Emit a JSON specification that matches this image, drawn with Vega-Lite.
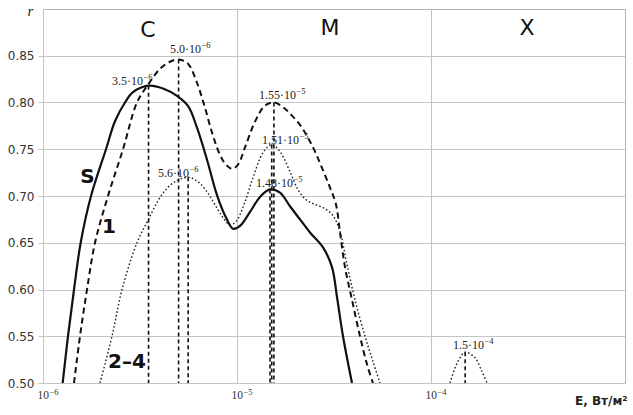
{
  "$schema": "https://vega.github.io/schema/vega-lite/v6.json",
  "width": 582,
  "height": 374,
  "autosize": {"type": "none"},
  "padding": {"left": 43, "top": 9, "right": 8, "bottom": 32},
  "background": "white",
  "config": {"view": {"stroke": "#b5b5b5", "strokeWidth": 1}},
  "datasets": {
    "curves": [
      {"s": "S", "E": 1.263e-6, "r": 0.50},
      {"s": "S", "E": 1.345e-6, "r": 0.55},
      {"s": "S", "E": 1.445e-6, "r": 0.60},
      {"s": "S", "E": 1.564e-6, "r": 0.65},
      {"s": "S", "E": 1.768e-6, "r": 0.70},
      {"s": "S", "E": 2.112e-6, "r": 0.75},
      {"s": "S", "E": 2.35e-6, "r": 0.78},
      {"s": "S", "E": 2.647e-6, "r": 0.80},
      {"s": "S", "E": 2.91e-6, "r": 0.811},
      {"s": "S", "E": 3.5e-6, "r": 0.818},
      {"s": "S", "E": 4.155e-6, "r": 0.815},
      {"s": "S", "E": 4.906e-6, "r": 0.807},
      {"s": "S", "E": 5.6e-6, "r": 0.796},
      {"s": "S", "E": 6.22e-6, "r": 0.773},
      {"s": "S", "E": 7.0e-6, "r": 0.739},
      {"s": "S", "E": 7.885e-6, "r": 0.701},
      {"s": "S", "E": 8.776e-6, "r": 0.677},
      {"s": "S", "E": 9.54e-6, "r": 0.665},
      {"s": "S", "E": 1.036e-5, "r": 0.668},
      {"s": "S", "E": 1.167e-5, "r": 0.683},
      {"s": "S", "E": 1.314e-5, "r": 0.699},
      {"s": "S", "E": 1.48e-5, "r": 0.707},
      {"s": "S", "E": 1.666e-5, "r": 0.7035},
      {"s": "S", "E": 1.876e-5, "r": 0.689},
      {"s": "S", "E": 2.112e-5, "r": 0.675},
      {"s": "S", "E": 2.378e-5, "r": 0.661},
      {"s": "S", "E": 2.775e-5, "r": 0.645},
      {"s": "S", "E": 3.088e-5, "r": 0.624},
      {"s": "S", "E": 3.277e-5, "r": 0.592},
      {"s": "S", "E": 3.519e-5, "r": 0.55},
      {"s": "S", "E": 3.915e-5, "r": 0.50},
      {"s": "1", "E": 1.445e-6, "r": 0.50},
      {"s": "1", "E": 1.551e-6, "r": 0.55},
      {"s": "1", "E": 1.686e-6, "r": 0.60},
      {"s": "1", "E": 1.854e-6, "r": 0.65},
      {"s": "1", "E": 2.163e-6, "r": 0.70},
      {"s": "1", "E": 2.585e-6, "r": 0.75},
      {"s": "1", "E": 3.051e-6, "r": 0.80},
      {"s": "1", "E": 3.477e-6, "r": 0.819},
      {"s": "1", "E": 4.01e-6, "r": 0.836},
      {"s": "1", "E": 4.513e-6, "r": 0.8436},
      {"s": "1", "E": 5.0e-6, "r": 0.846},
      {"s": "1", "E": 5.589e-6, "r": 0.8415},
      {"s": "1", "E": 6.147e-6, "r": 0.824},
      {"s": "1", "E": 6.76e-6, "r": 0.798},
      {"s": "1", "E": 7.43e-6, "r": 0.768},
      {"s": "1", "E": 8.17e-6, "r": 0.744},
      {"s": "1", "E": 8.776e-6, "r": 0.7335},
      {"s": "1", "E": 9.42e-6, "r": 0.729},
      {"s": "1", "E": 1.012e-5, "r": 0.7335},
      {"s": "1", "E": 1.0996e-5, "r": 0.752},
      {"s": "1", "E": 1.238e-5, "r": 0.7795},
      {"s": "1", "E": 1.394e-5, "r": 0.7966},
      {"s": "1", "E": 1.55e-5, "r": 0.80},
      {"s": "1", "E": 1.727e-5, "r": 0.795},
      {"s": "1", "E": 1.92e-5, "r": 0.786},
      {"s": "1", "E": 2.163e-5, "r": 0.773},
      {"s": "1", "E": 2.465e-5, "r": 0.752},
      {"s": "1", "E": 2.742e-5, "r": 0.730},
      {"s": "1", "E": 3.016e-5, "r": 0.709},
      {"s": "1", "E": 3.238e-5, "r": 0.691},
      {"s": "1", "E": 3.396e-5, "r": 0.661},
      {"s": "1", "E": 3.603e-5, "r": 0.624},
      {"s": "1", "E": 3.915e-5, "r": 0.589},
      {"s": "1", "E": 4.305e-5, "r": 0.55},
      {"s": "1", "E": 4.678e-5, "r": 0.52},
      {"s": "1", "E": 5.02e-5, "r": 0.50},
      {"s": "D", "E": 1.967e-6, "r": 0.50},
      {"s": "D", "E": 2.268e-6, "r": 0.55},
      {"s": "D", "E": 2.555e-6, "r": 0.60},
      {"s": "D", "E": 3.051e-6, "r": 0.65},
      {"s": "D", "E": 3.477e-6, "r": 0.674},
      {"s": "D", "E": 4.057e-6, "r": 0.70},
      {"s": "D", "E": 4.68e-6, "r": 0.714},
      {"s": "D", "E": 5.6e-6, "r": 0.72},
      {"s": "D", "E": 6.295e-6, "r": 0.7153},
      {"s": "D", "E": 7.0e-6, "r": 0.7046},
      {"s": "D", "E": 7.7e-6, "r": 0.6907},
      {"s": "D", "E": 8.47e-6, "r": 0.6768},
      {"s": "D", "E": 9.2e-6, "r": 0.6693},
      {"s": "D", "E": 9.88e-6, "r": 0.6725},
      {"s": "D", "E": 1.087e-5, "r": 0.691},
      {"s": "D", "E": 1.209e-5, "r": 0.7196},
      {"s": "D", "E": 1.361e-5, "r": 0.7463},
      {"s": "D", "E": 1.51e-5, "r": 0.755},
      {"s": "D", "E": 1.666e-5, "r": 0.7474},
      {"s": "D", "E": 1.876e-5, "r": 0.726},
      {"s": "D", "E": 2.063e-5, "r": 0.7067},
      {"s": "D", "E": 2.268e-5, "r": 0.696},
      {"s": "D", "E": 2.524e-5, "r": 0.691},
      {"s": "D", "E": 2.842e-5, "r": 0.6864},
      {"s": "D", "E": 3.124e-5, "r": 0.679},
      {"s": "D", "E": 3.396e-5, "r": 0.662},
      {"s": "D", "E": 3.69e-5, "r": 0.6265},
      {"s": "D", "E": 4.057e-5, "r": 0.589},
      {"s": "D", "E": 4.569e-5, "r": 0.55},
      {"s": "D", "E": 5.02e-5, "r": 0.523},
      {"s": "D", "E": 5.46e-5, "r": 0.50},
      {"s": "B", "E": 1.253e-4, "r": 0.50},
      {"s": "B", "E": 1.33e-4, "r": 0.516},
      {"s": "B", "E": 1.411e-4, "r": 0.527},
      {"s": "B", "E": 1.5e-4, "r": 0.533},
      {"s": "B", "E": 1.686e-4, "r": 0.527},
      {"s": "B", "E": 1.825e-4, "r": 0.513},
      {"s": "B", "E": 1.944e-4, "r": 0.50}
    ],
    "peaks": [
      {"E": 3.5e-6, "r": 0.818},
      {"E": 5.0e-6, "r": 0.846},
      {"E": 5.6e-6, "r": 0.72},
      {"E": 1.48e-5, "r": 0.707},
      {"E": 1.51e-5, "r": 0.755},
      {"E": 1.55e-5, "r": 0.80},
      {"E": 1.5e-4, "r": 0.533}
    ],
    "peakLabels": [
      {"E": 3.278e-6, "r": 0.8233, "b": "3.5·10", "e": "−6"},
      {"E": 6.52e-6, "r": 0.8575, "b": "5.0·10", "e": "−6"},
      {"E": 2.015e-5, "r": 0.808, "b": "1.55·10", "e": "−5"},
      {"E": 2.087e-5, "r": 0.760, "b": "1.51·10", "e": "−5"},
      {"E": 1.944e-5, "r": 0.714, "b": "1.48·10", "e": "−5"},
      {"E": 5.656e-6, "r": 0.725, "b": "5.6·10", "e": "−6"},
      {"E": 1.876e-4, "r": 0.541, "b": "1.5·10", "e": "−4"}
    ],
    "tickLabels": [
      {"E": 1e-6, "b": "10", "e": "−6"},
      {"E": 1e-5, "b": "10", "e": "−5"},
      {"E": 1e-4, "b": "10", "e": "−4"}
    ],
    "curveLabels": [
      {"E": 1.696e-6, "r": 0.7206, "t": "S"},
      {"E": 2.189e-6, "r": 0.667, "t": "1"},
      {"E": 2.71e-6, "r": 0.522, "t": "2–4"}
    ],
    "regionLabels": [
      {"E": 3.477e-6, "r": 0.878, "t": "C"},
      {"E": 3.016e-5, "r": 0.880, "t": "M"},
      {"E": 3.124e-4, "r": 0.880, "t": "X"}
    ]
  },
  "encoding": {
    "x": {
      "field": "E",
      "type": "quantitative",
      "scale": {"type": "log", "domain": [1e-6, 1e-3], "nice": false},
      "axis": {
        "values": [1e-6, 1e-5, 1e-4],
        "labels": false,
        "grid": true,
        "gridColor": "#c4c4c4",
        "domain": false,
        "ticks": false,
        "title": "E, Вт/м²",
        "titleFont": "DejaVu Sans",
        "titleFontSize": 12,
        "titleFontWeight": "bold",
        "titleColor": "#222222",
        "titleAnchor": "end",
        "titleAlign": "right",
        "titleBaseline": "middle",
        "titleX": 584,
        "titleY": 17
      }
    },
    "y": {
      "field": "r",
      "type": "quantitative",
      "scale": {"domain": [0.5, 0.9], "nice": false, "zero": false},
      "axis": {
        "values": [0.5, 0.55, 0.6, 0.65, 0.7, 0.75, 0.8, 0.85],
        "format": ".2f",
        "grid": true,
        "gridColor": "#c4c4c4",
        "domain": false,
        "ticks": true,
        "tickSize": 5,
        "tickColor": "#c4c4c4",
        "labelFont": "DejaVu Sans",
        "labelFontSize": 12,
        "labelColor": "#333333",
        "labelPadding": 4,
        "labelFlush": false,
        "title": "r",
        "titleFont": "Liberation Serif",
        "titleFontStyle": "italic",
        "titleFontWeight": "normal",
        "titleFontSize": 15,
        "titleColor": "#222222",
        "titleAngle": 0,
        "titleAlign": "center",
        "titleBaseline": "alphabetic",
        "titleX": -13,
        "titleY": 6
      }
    }
  },
  "layer": [
    {
      "data": {"name": "curves"},
      "transform": [{"filter": "datum.s == 'S'"}],
      "mark": {"type": "line", "color": "#111111", "strokeWidth": 2.2, "interpolate": "catmull-rom", "clip": true},
      "encoding": {}
    },
    {
      "data": {"name": "curves"},
      "transform": [{"filter": "datum.s == '1'"}],
      "mark": {"type": "line", "color": "#111111", "strokeWidth": 2, "strokeDash": [6, 4], "interpolate": "catmull-rom", "clip": true},
      "encoding": {}
    },
    {
      "data": {"name": "curves"},
      "transform": [{"filter": "datum.s == 'D' || datum.s == 'B'"}],
      "mark": {"type": "line", "color": "#222222", "strokeWidth": 1.4, "strokeDash": [1.6, 2.2], "interpolate": "catmull-rom", "clip": true},
      "encoding": {"detail": {"field": "s"}}
    },
    {
      "data": {"name": "peaks"},
      "mark": {"type": "rule", "color": "#111111", "strokeWidth": 1.6, "strokeDash": [4, 3]},
      "encoding": {"y2": {"datum": 0.5}}
    },
    {
      "data": {"name": "peakLabels"},
      "mark": {"type": "text", "font": "Liberation Serif", "fontSize": 12, "color": "#222222", "align": "right", "baseline": "middle"},
      "encoding": {"text": {"field": "b"}}
    },
    {
      "data": {"name": "peakLabels"},
      "mark": {"type": "text", "font": "Liberation Serif", "fontSize": 8.5, "color": "#222222", "align": "left", "baseline": "middle", "dx": 0.5, "dy": -4},
      "encoding": {"text": {"field": "e"}}
    },
    {
      "data": {"name": "tickLabels"},
      "transform": [{"calculate": "0.5", "as": "r"}],
      "mark": {"type": "text", "font": "Liberation Serif", "fontSize": 11.5, "color": "#333333", "align": "right", "baseline": "middle", "dx": 6, "dy": 13},
      "encoding": {"text": {"field": "b"}}
    },
    {
      "data": {"name": "tickLabels"},
      "transform": [{"calculate": "0.5", "as": "r"}],
      "mark": {"type": "text", "font": "Liberation Serif", "fontSize": 8.5, "color": "#333333", "align": "left", "baseline": "middle", "dx": 6.5, "dy": 9},
      "encoding": {"text": {"field": "e"}}
    },
    {
      "data": {"name": "curveLabels"},
      "mark": {"type": "text", "font": "DejaVu Sans", "fontSize": 20, "fontWeight": "bold", "color": "#111111", "align": "center", "baseline": "middle"},
      "encoding": {"text": {"field": "t"}}
    },
    {
      "data": {"name": "regionLabels"},
      "mark": {"type": "text", "font": "DejaVu Sans", "fontSize": 22, "color": "#111111", "align": "center", "baseline": "middle"},
      "encoding": {"text": {"field": "t"}}
    }
  ]
}
